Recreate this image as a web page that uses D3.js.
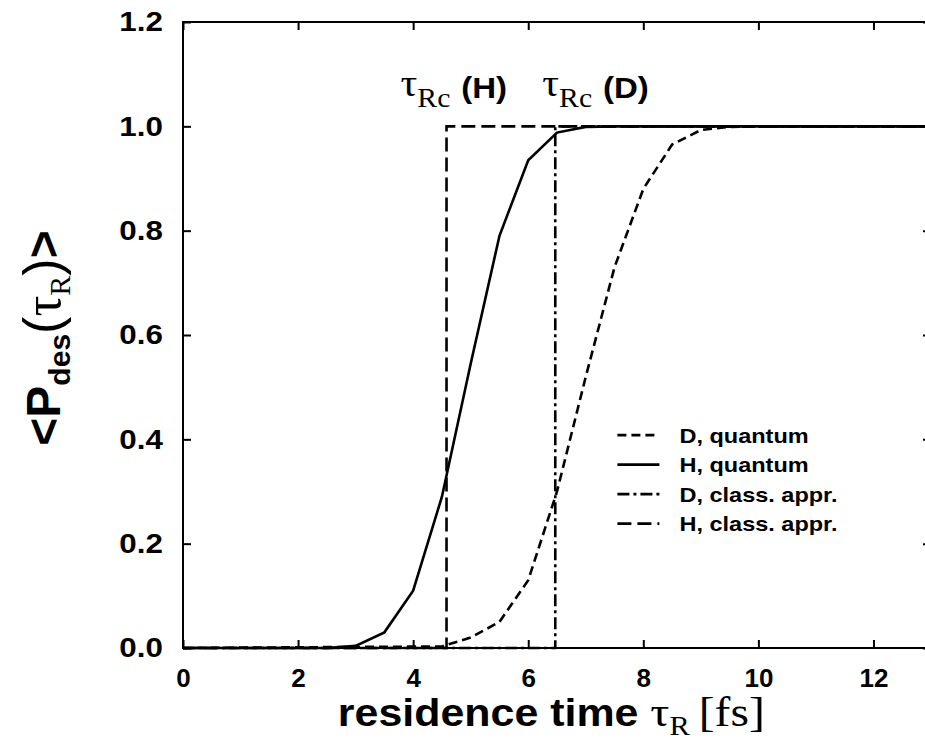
<!DOCTYPE html>
<meta charset="utf-8">
<style>
body { margin: 0; background: #fff; }
.frame { fill: none; stroke: #000; stroke-width: 2px; }
.axis path { display: none; }
.axis line { stroke: #000; stroke-width: 2px; }
.axis text { font-family: "Liberation Sans", Arial, sans-serif; font-weight: bold; fill: #000; }
.curve { fill: none; stroke: #000; stroke-width: 2.6px; }
.legend text { font: bold 21px "Liberation Sans", Arial, sans-serif; }
</style>
<svg id="chart" width="925" height="742"></svg>
<script src="https://cdnjs.cloudflare.com/ajax/libs/d3/7.8.5/d3.min.js"></script>
<script>
// tick values
var xTicks = [0, 2, 4, 6, 8, 10, 12];
var yTicks = [0, 0.2, 0.4, 0.6, 0.8, 1.0, 1.2];

// H, quantum
var hQuantumX = [0, 2.5, 3.0, 3.5, 4.0, 4.5, 5.0, 5.5, 6.0, 6.5, 7.0, 7.5, 13];
var hQuantumY = [0, 0, 0.004, 0.03, 0.11, 0.29, 0.545, 0.79, 0.935, 0.988, 0.999, 1.0, 1.0];

// D, quantum
var dQuantumX = [0, 4.5, 5.0, 5.5, 6.0, 6.5, 7.0, 7.5, 8.0, 8.5, 9.0, 9.5, 10.0, 13];
var dQuantumY = [0, 0.003, 0.02, 0.05, 0.13, 0.30, 0.52, 0.73, 0.88, 0.965, 0.993, 0.999, 1.0, 1.0];

// classical approximation: step at critical residence time
var tauRcH = 4.58, tauRcD = 6.47;
var hClassX = [0, tauRcH, tauRcH, 13];
var hClassY = [0, 0, 1, 1];
var dClassX = [0, tauRcD, tauRcD, 13];
var dClassY = [0, 0, 1, 1];

var legendLabels = ["D, quantum", "H, quantum", "D, class. appr.", "H, class. appr."];

var svg = d3.select("#chart"),
    margin = {top: 22, right: -6, bottom: 94, left: 183},
    width = svg.attr("width") - margin.left - margin.right,
    height = svg.attr("height") - margin.top - margin.bottom,
    g = svg.append("g").attr("transform", "translate(" + margin.left + "," + margin.top + ")");

var x = d3.scaleLinear().domain([0, 13]).range([0, width]),
    y = d3.scaleLinear().domain([0, 1.2]).range([height, 0]);

function zip(xs, ys) {
  return xs.map(function(v, i) { return [v, ys[i]]; });
}

var series = [
  {id: "hClass", values: zip(hClassX, hClassY), dash: "14,6"},
  {id: "dClass", values: zip(dClassX, dClassY), dash: "12,4,3,4"},
  {id: "dQuantum", values: zip(dQuantumX, dQuantumY), dash: "9,5"},
  {id: "hQuantum", values: zip(hQuantumX, hQuantumY), dash: null}
];

var line = d3.line()
    .x(function(d) { return x(d[0]); })
    .y(function(d) { return y(d[1]); });

// axes, ticks inward on all four sides
g.append("g")
    .attr("class", "axis axis--x")
    .attr("transform", "translate(0," + height + ")")
    .call(d3.axisBottom(x).tickValues(xTicks).tickSize(-8).tickPadding(21).tickFormat(d3.format("d")))
    .selectAll("text").style("font-size", "26px");

g.append("g")
    .attr("class", "axis")
    .call(d3.axisTop(x).tickValues(xTicks).tickSize(-8).tickFormat(""));

g.append("g")
    .attr("class", "axis axis--y")
    .call(d3.axisLeft(y).tickValues(yTicks).tickSize(-8).tickPadding(18).tickFormat(d3.format(".1f")))
    .selectAll("text")
    .style("font-size", "28px")
    .attr("transform", "scale(1.12,1)");

g.append("g")
    .attr("class", "axis")
    .attr("transform", "translate(" + width + ",0)")
    .call(d3.axisRight(y).tickValues(yTicks).tickSize(-8).tickFormat(""));

g.append("rect")
    .attr("class", "frame")
    .attr("width", width)
    .attr("height", height);

// curves
g.selectAll(".curve")
  .data(series)
  .enter().append("path")
    .attr("class", "curve")
    .attr("d", function(d) { return line(d.values); })
    .style("stroke-dasharray", function(d) { return d.dash; });

// legend
var legendOrder = [series[2], series[3], series[1], series[0]];
var legend = g.append("g")
    .attr("class", "legend")
    .attr("transform", "translate(" + (x(7.55)) + "," + y(0.408) + ")");

var rows = legend.selectAll("g")
  .data(legendOrder)
  .enter().append("g")
    .attr("transform", function(d, i) { return "translate(0," + (i * 29.5) + ")"; });

rows.append("line")
    .attr("x1", 0).attr("x2", 42)
    .attr("stroke", "#000")
    .attr("stroke-width", 2.6)
    .style("stroke-dasharray", function(d) { return d.dash; });

rows.append("text")
    .attr("transform", "translate(62,0) scale(1.12,1)")
    .attr("dy", "0.35em")
    .text(function(d, i) { return legendLabels[i]; });

// critical time annotations
function tauLabel(xPos, letter) {
  var t = g.append("text")
      .attr("transform", "translate(" + xPos + ",74) scale(1.1,1)");
  t.append("tspan")
      .style("font", "38px 'Liberation Serif', 'Times New Roman', serif")
      .text("τ");
  t.append("tspan")
      .attr("dy", 11)
      .style("font", "27px 'Liberation Serif', 'Times New Roman', serif")
      .text("Rc");
  t.append("tspan")
      .attr("dy", -9)
      .attr("dx", 10)
      .style("font", "bold 30px 'Liberation Sans', Arial, sans-serif")
      .text("(" + letter + ")");
}
tauLabel(x(tauRcH) - 46, "H");
tauLabel(x(tauRcD) - 13, "D");

// x axis title
var xt = svg.append("text")
    .attr("transform", "translate(" + (margin.left + x(6.4)) + ",726) scale(1.13,1)")
    .attr("text-anchor", "middle");
xt.append("tspan")
    .style("font", "bold 38px 'Liberation Sans', Arial, sans-serif")
    .text("residence time ");
xt.append("tspan")
    .style("font", "42px 'Liberation Serif', 'Times New Roman', serif")
    .text("τ");
xt.append("tspan")
    .attr("dy", 9)
    .style("font", "27px 'Liberation Serif', 'Times New Roman', serif")
    .text("R");
xt.append("tspan")
    .attr("dy", -9)
    .attr("dx", 8)
    .style("font", "42px 'Liberation Serif', 'Times New Roman', serif")
    .text("[fs]");

// y axis title
var yt = svg.append("text")
    .attr("transform", "translate(60,338) rotate(-90)")
    .attr("text-anchor", "middle");
yt.append("tspan")
    .style("font", "bold 48px 'Liberation Sans', Arial, sans-serif")
    .text("<P");
yt.append("tspan")
    .attr("dy", 10)
    .style("font", "bold 30px 'Liberation Sans', Arial, sans-serif")
    .text("des");
yt.append("tspan")
    .attr("dy", -10)
    .style("font", "52px 'Liberation Sans', Arial, sans-serif")
    .text("(");
yt.append("tspan")
    .style("font", "52px 'Liberation Serif', 'Times New Roman', serif")
    .text("τ");
yt.append("tspan")
    .attr("dy", 10)
    .style("font", "30px 'Liberation Serif', 'Times New Roman', serif")
    .text("R");
yt.append("tspan")
    .attr("dy", -10)
    .style("font", "52px 'Liberation Sans', Arial, sans-serif")
    .text(")");
yt.append("tspan")
    .style("font", "bold 48px 'Liberation Sans', Arial, sans-serif")
    .text(">");
</script>
